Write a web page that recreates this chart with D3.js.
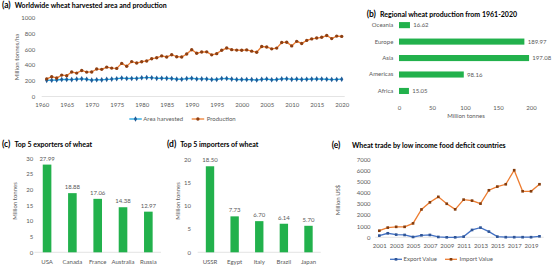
<!DOCTYPE html>
<html>
<head>
<meta charset="utf-8">
<script src="https://cdn.jsdelivr.net/npm/d3@7"></script>
<style>
body { margin:0; background:#fff; }
svg text { font-family: Lato, "Open Sans", sans-serif; }
</style>
</head>
<body>
<svg id="chart" width="552" height="267"></svg>
<script>

//
//**   Dane   **/
//

var years = d3.range(1961, 2021);
var areaHarvested = [204.2,206.6,208.6,215.0,216.4,213.9,219.6,223.6,218.1,207.0,
                     212.9,210.5,217.1,220.1,225.1,232.9,227.6,228.7,228.7,237.0,
                     239.0,237.7,229.5,231.5,229.9,228.0,219.5,218.4,226.7,231.2,
                     222.0,222.6,222.2,214.9,215.5,226.8,228.0,220.4,214.3,215.5,
                     214.6,213.7,208.2,216.9,220.7,211.9,215.2,222.9,225.5,216.8,
                     220.1,216.3,218.1,220.4,222.7,220.8,218.5,214.3,216.0,219.0];
var production = [222.4,250.7,234.2,270.6,263.9,309.9,296.3,329.6,309.0,310.7,
                  347.5,343.4,371.3,359.6,355.6,419.0,382.6,441.7,423.5,440.2,
                  449.6,478.4,490.3,514.1,500.1,529.2,503.4,500.0,538.4,592.4,
                  546.7,563.6,564.9,527.0,542.6,584.9,613.2,593.2,587.3,585.7,
                  589.8,573.9,560.1,632.8,626.5,602.9,613.0,683.4,687.1,640.8,
                  697.8,671.5,710.0,729.0,740.1,749.5,771.7,732.9,764.4,760.9];
var yearTicks = [1960,1965,1970,1975,1980,1985,1990,1995,2000,2005,2010,2015,2020];

var regions = ["Oceania","Europe","Asia","Americas","Africa"];
var regionProduction = [16.62,189.97,197.08,98.16,15.05];

var exporters = ["USA","Canada","France","Australia","Russia"];
var exportTonnes = [27.99,18.88,17.06,14.38,12.97];

var importers = ["USSR","Egypt","Italy","Brazil","Japan"];
var importTonnes = [18.50,7.73,6.70,6.14,5.70];

var tradeYears = d3.range(2001, 2021);
var exportValue = [150,360,240,210,30,180,210,30,0,0,60,660,870,510,60,10,10,10,10,90];
var importValue = [590,870,940,940,1250,2500,3140,3630,3010,2510,3380,3290,3020,4220,4550,4760,6020,4130,4130,4760];

var svg = d3.select("#chart");
var grey = "#595959";
var green = "#22B14C";

function styleAxis(g) {
    g.select(".domain").remove();
    g.selectAll("text").style("fill", grey).style("font-size", "6px");
}

function panelTitle(x, y, tag, text) {
    svg.append("text")
        .attr("x", x).attr("y", y)
        .attr("dy", "0.35em")
        .style("font-weight", "bold")
        .style("font-size", "8.5px")
        .text(tag)
        .append("tspan")
        .attr("dx", 4)
        .style("font-size", "7px")
        .text(text);
}

function yTitle(x, y, text) {
    svg.append("text")
        .attr("transform", "translate(" + x + "," + y + ") rotate(-90)")
        .attr("dy", "0.35em")
        .style("text-anchor", "middle")
        .style("font-size", "6px")
        .style("fill", grey)
        .text(text);
}

//
//**   (a) Powierzchnia i produkcja   **/
//

var xa = d3.scaleLinear().domain([1960, 2020]).range([41.7, 341.7]);
var ya = d3.scaleLinear().domain([0, 1000]).range([96.5, 17.5]);

svg.append("line")
    .attr("x1", xa(1960)).attr("x2", xa(2020) + 3)
    .attr("y1", ya(0)).attr("y2", ya(0))
    .style("stroke", "#D9D9D9").style("stroke-width", 0.7);

svg.append("g")
    .attr("transform", "translate(0," + ya(0) + ")")
    .call(d3.axisBottom(xa).tickValues(yearTicks).tickFormat(d3.format("d")).tickSize(0).tickPadding(6.5))
    .call(styleAxis);

svg.append("g")
    .attr("transform", "translate(" + xa(1960) + ",0)")
    .call(d3.axisLeft(ya).tickValues([0,200,400,600,800,1000]).tickFormat(d3.format("d")).tickSize(0).tickPadding(6.5))
    .call(styleAxis);

yTitle(17, 57, "Million tonnes/ha");
panelTitle(2, 5, "(a)", "Worldwide wheat harvested area and production");

var seriesA = [
    { name: "Area harvested", values: areaHarvested, line: "#1FA6E2", mark: "#1F5C99", shape: d3.symbolDiamond, lx: 129.3, tx: 143.3 },
    { name: "Production", values: production, line: "#ED7D31", mark: "#8E3F12", shape: d3.symbolCircle, lx: 191.7, tx: 206.7 }
];

seriesA.forEach(function (s) {
    var line = d3.line()
        .x(function (d, i) { return xa(years[i]); })
        .y(function (d) { return ya(d); });

    svg.append("path")
        .datum(s.values)
        .attr("d", line)
        .style("fill", "none")
        .style("stroke", s.line)
        .style("stroke-width", 1.3);

    svg.selectAll(null).data(s.values).enter()
        .append("path")
        .attr("d", d3.symbol().type(s.shape).size(9))
        .attr("transform", function (d, i) { return "translate(" + xa(years[i]) + "," + ya(d) + ")"; })
        .style("fill", s.mark);

    svg.append("line")
        .attr("x1", s.lx).attr("x2", s.lx + 12.5)
        .attr("y1", 119).attr("y2", 119)
        .style("stroke", s.line).style("stroke-width", 1.3);
    svg.append("path")
        .attr("d", d3.symbol().type(s.shape).size(9))
        .attr("transform", "translate(" + (s.lx + 6.2) + ",119)")
        .style("fill", s.mark);
    svg.append("text")
        .attr("x", s.tx).attr("y", 119)
        .attr("dy", "0.35em")
        .style("font-size", "6px")
        .style("fill", grey)
        .text(s.name);
});

//
//**   (b) Produkcja regionalna   **/
//

var xb = d3.scaleLinear().domain([0, 200]).range([399, 531]);
var yb = d3.scaleBand().domain(regions).range([16.9, 99.2]).paddingInner(0.63).paddingOuter(0.315);

svg.append("g")
    .attr("transform", "translate(0,100)")
    .call(d3.axisBottom(xb).tickValues([0,50,100,150,200]).tickSize(0).tickPadding(6))
    .call(styleAxis);

svg.append("g")
    .attr("transform", "translate(" + xb(0) + ",0)")
    .call(d3.axisLeft(yb).tickSize(0).tickPadding(5.7))
    .call(styleAxis);

svg.selectAll(".barB").data(regionProduction).enter()
    .append("rect")
    .attr("x", xb(0))
    .attr("y", function (d, i) { return yb(regions[i]); })
    .attr("width", function (d) { return xb(d) - xb(0); })
    .attr("height", yb.bandwidth())
    .style("fill", green);

svg.selectAll(".lblB").data(regionProduction).enter()
    .append("text")
    .attr("x", function (d) { return xb(d) + 3.3; })
    .attr("y", function (d, i) { return yb(regions[i]) + yb.bandwidth() / 2; })
    .attr("dy", "0.35em")
    .style("font-size", "6px")
    .style("fill", grey)
    .text(function (d) { return d3.format(".2f")(d); });

svg.append("text")
    .attr("x", 466).attr("y", 115.5)
    .attr("dy", "0.35em")
    .style("text-anchor", "middle")
    .style("font-size", "6px")
    .style("fill", grey)
    .text("Million tonnes");

panelTitle(366.7, 14, "(b)", "Regional wheat production from 1961-2020");

//
//**   (c) i (d) Eksporterzy i importerzy   **/
//

function columnPanel(names, values, x0, x1, yMax, yTop, tickStep, labelX, titleX, tag, title, tagX) {
    var xs = d3.scaleBand().domain(names).range([x0, x1]).paddingInner(0.66).paddingOuter(0.33);
    var ys = d3.scaleLinear().domain([0, yMax]).range([252.3, yTop]);

    svg.append("line")
        .attr("x1", x0).attr("x2", x1)
        .attr("y1", ys(0)).attr("y2", ys(0))
        .style("stroke", "#D9D9D9").style("stroke-width", 0.7);

    svg.append("g")
        .attr("transform", "translate(" + labelX + ",0)")
        .call(d3.axisLeft(ys).tickValues(d3.range(0, yMax + 1, tickStep)).tickSize(0).tickPadding(0))
        .call(styleAxis);

    svg.append("g")
        .attr("transform", "translate(0," + ys(0) + ")")
        .call(d3.axisBottom(xs).tickSize(0).tickPadding(7))
        .call(styleAxis);

    svg.selectAll(null).data(values).enter()
        .append("rect")
        .attr("x", function (d, i) { return xs(names[i]); })
        .attr("y", function (d) { return ys(d); })
        .attr("width", xs.bandwidth())
        .attr("height", function (d) { return ys(0) - ys(d); })
        .style("fill", green);

    svg.selectAll(null).data(values).enter()
        .append("text")
        .attr("x", function (d, i) { return xs(names[i]) + xs.bandwidth() / 2; })
        .attr("y", function (d) { return ys(d) - 4; })
        .style("text-anchor", "middle")
        .style("font-size", "6px")
        .style("fill", grey)
        .text(function (d) { return d3.format(".2f")(d); });

    yTitle(titleX, 201, "Million tonnes");
    panelTitle(tagX, 144, tag, title);
}

columnPanel(exporters, exportTonnes, 34.4, 161, 30, 158.3, 5, 33.3, 15, "(c)", "Top 5 exporters of wheat", 2);
columnPanel(importers, importTonnes, 197.7, 320.8, 20, 159.3, 5, 191, 178, "(d)", "Top 5 importers of wheat", 167);

//
//**   (e) Handel   **/
//

var xe = d3.scalePoint().domain(tradeYears).range([375.1, 543.7]).padding(0.5);
var ye = d3.scaleLinear().domain([0, 7000]).range([237.3, 159.3]);

svg.append("line")
    .attr("x1", 375.1).attr("x2", 543.7)
    .attr("y1", ye(0)).attr("y2", ye(0))
    .style("stroke", "#D9D9D9").style("stroke-width", 0.7);

svg.append("g")
    .attr("transform", "translate(375.1,0)")
    .call(d3.axisLeft(ye).tickValues(d3.range(0, 7001, 1000)).tickFormat(d3.format("d")).tickSize(0).tickPadding(4.5))
    .call(styleAxis);

svg.append("g")
    .attr("transform", "translate(0," + ye(0) + ")")
    .call(d3.axisBottom(xe).tickValues(tradeYears.filter(function (d) { return d % 2 == 1; })).tickSize(0).tickPadding(6.5))
    .call(styleAxis);

yTitle(338.3, 200, "Million US$");
panelTitle(331.7, 145.5, "(e)", "");
svg.append("text")
    .attr("x", 352).attr("y", 145.5)
    .attr("dy", "0.35em")
    .style("font-weight", "bold")
    .style("font-size", "7px")
    .text("Wheat trade by low income food deficit countries");

var seriesE = [
    { name: "Export Value", values: exportValue, line: "#4472C4", mark: "#2F5597", lx: 390, tx: 403.5 },
    { name: "Import Value", values: importValue, line: "#ED7D31", mark: "#843C0C", lx: 445, tx: 459.5 }
];

seriesE.forEach(function (s) {
    var line = d3.line()
        .x(function (d, i) { return xe(tradeYears[i]); })
        .y(function (d) { return ye(d); });

    svg.append("path")
        .datum(s.values)
        .attr("d", line)
        .style("fill", "none")
        .style("stroke", s.line)
        .style("stroke-width", 1.3);

    svg.selectAll(null).data(s.values).enter()
        .append("path")
        .attr("d", d3.symbol().type(d3.symbolSquare).size(7))
        .attr("transform", function (d, i) { return "translate(" + xe(tradeYears[i]) + "," + ye(d) + ")"; })
        .style("fill", s.mark);

    svg.append("line")
        .attr("x1", s.lx).attr("x2", s.lx + 12)
        .attr("y1", 259.3).attr("y2", 259.3)
        .style("stroke", s.line).style("stroke-width", 1.3);
    svg.append("path")
        .attr("d", d3.symbol().type(d3.symbolSquare).size(7))
        .attr("transform", "translate(" + (s.lx + 6) + ",259.3)")
        .style("fill", s.mark);
    svg.append("text")
        .attr("x", s.tx).attr("y", 259.3)
        .attr("dy", "0.35em")
        .style("font-size", "6px")
        .style("fill", grey)
        .text(s.name);
});

</script>
</body>
</html>
